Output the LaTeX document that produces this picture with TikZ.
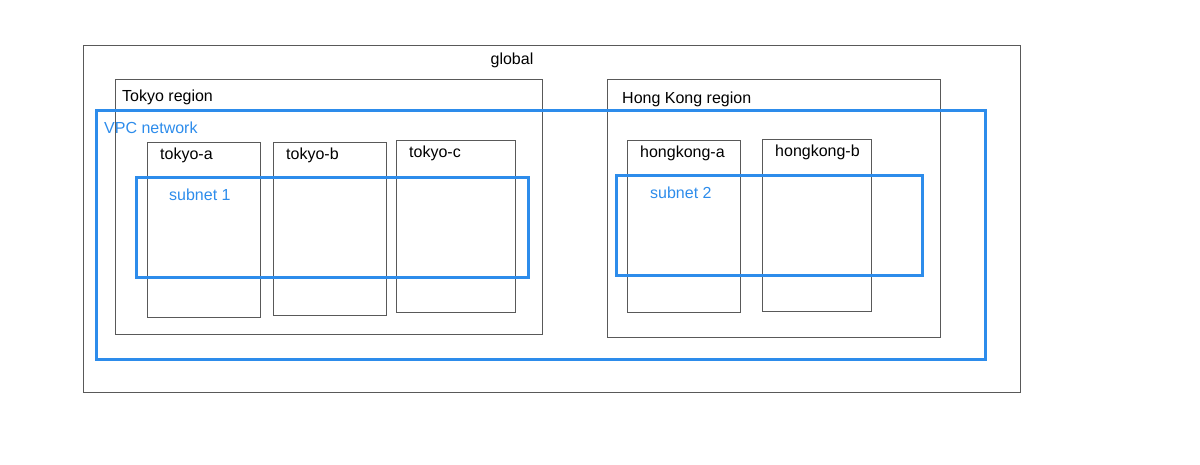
\documentclass[tikz,border=0pt]{standalone}
\usepackage{fontspec}
\setmainfont{Liberation Sans}
\usepackage{tikz}
\usetikzlibrary{positioning}
\definecolor{vpc_blue}{RGB}{45,140,235}

\begin{document}
\begin{tikzpicture}[x=1pt, y=-1pt, font=\fontsize{16}{18}\selectfont,
    box/.style={draw=black!65, line width=0.9pt},
    net/.style={draw=vpc_blue, line width=3pt},
    lbl/.style={anchor=base west, inner sep=0pt}]
        \useasboundingbox (0,0) rectangle (1200,464);
        % global and regions
        \draw[box] (83,45) rectangle (1020,392);
        \node[anchor=base, inner sep=0pt] (global) at (512,64) {global};
        \draw[box] (115,79) rectangle (542,334);
        \node[lbl] (tokyo) at (122,101) {Tokyo region};
        \draw[box] (607,79) rectangle (940,337);
        \node[lbl] (hongkong) at (622,103) {Hong Kong region};
        % zones
        \foreach \zn/\xa/\ya/\xb/\yb/\txt in {
          ta/147/142/260/317/tokyo-a,
          tb/273/142/386/315/tokyo-b,
          tc/396/140/515/312/tokyo-c,
          ha/627/140/740/312/hongkong-a,
          hb/762/139/871/311/hongkong-b}{
          \draw[box] (\xa,\ya) rectangle (\xb,\yb);
          \node[lbl] (\zn) at ({\xa+13},{\ya+17}) {\txt};
        }
        % network and subnets
        \draw[net] (96,110) rectangle (985,359);
        \node[lbl, vpc_blue] (vpc) at (104,133) {VPC network};
        \draw[net] (136,177) rectangle (528,277);
        \node[lbl, vpc_blue] (sub1) at (169,200) {subnet 1};
        \draw[net] (616,175) rectangle (922,275);
        \node[lbl, vpc_blue] (sub2) at (650,198) {subnet 2};
      \end{tikzpicture}
\end{document}
